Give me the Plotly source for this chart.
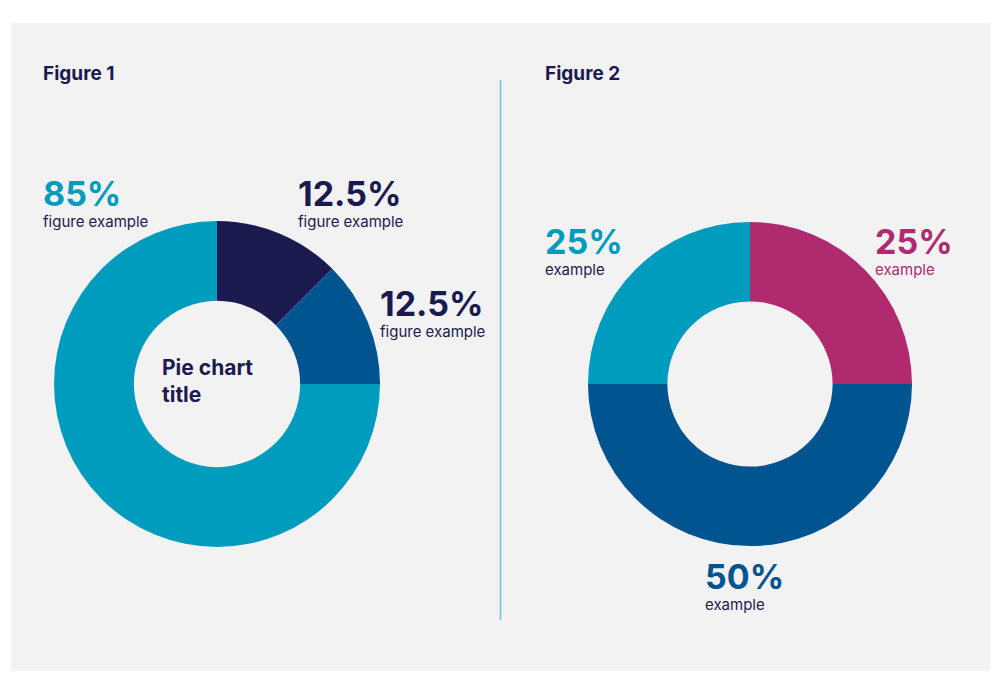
import plotly.graph_objects as go

# ---- data ----
fig1_values = [12.5, 12.5, 75]
fig1_colors = ["#1b1a4f", "#00548f", "#009cbd"]
fig1_pct_labels = ["12.5%", "12.5%", "85%"]
fig1_sub_labels = ["figure example", "figure example", "figure example"]
fig1_title = "Pie chart<br>title"

fig2_values = [25, 50, 25]
fig2_colors = ["#b02a70", "#00548f", "#009cbd"]
fig2_pct_labels = ["25%", "50%", "25%"]
fig2_sub_labels = ["example", "example", "example"]

panel_titles = ["Figure 1", "Figure 2"]

W, H = 1000, 682
NAVY = "#1b1a4f"
FONT = "Inter"


def px_dom(cx, cy, r):
    return dict(x=[(cx - r) / W, (cx + r) / W], y=[(H - cy - r) / H, (H - cy + r) / H])


fig = go.Figure()
fig.add_trace(go.Pie(values=fig1_values, marker=dict(colors=fig1_colors, line=dict(width=0)),
                     hole=0.51, sort=False, direction="clockwise", rotation=0,
                     textinfo="none", hoverinfo="skip", domain=px_dom(217, 384, 163), showlegend=False))
fig.add_trace(go.Pie(values=fig2_values, marker=dict(colors=fig2_colors, line=dict(width=0)),
                     hole=0.51, sort=False, direction="clockwise", rotation=0,
                     textinfo="none", hoverinfo="skip", domain=px_dom(750, 384, 162), showlegend=False))

ann = []


def txt(x, y, text, size, color, bold=False):
    ann.append(dict(x=x / W, y=1 - y / H, xref="paper", yref="paper", xanchor="left", yanchor="top",
                    text=f"<b>{text}</b>" if bold else text, showarrow=False,
                    font=dict(family=FONT, size=size, color=color), align="left"))


# panel titles
txt(41, 60, panel_titles[0], 19, NAVY, True)
txt(543, 60, panel_titles[1], 19, NAVY, True)

# figure 1 labels
lab1_pos = [(296, 171, NAVY), (378, 281, NAVY), (41, 171, "#009cbd")]
for (x, y, c), p, s in zip(lab1_pos, fig1_pct_labels, fig1_sub_labels):
    txt(x, y, p, 34, c, True)
    txt(x, y + 39, s, 15, NAVY)
txt(160, 353, fig1_title, 21, NAVY, True)

# figure 2 labels
lab2_pos = [(873, 219, "#b02a70", "#b02a70"), (703, 554, "#00548f", NAVY), (543, 219, "#009cbd", NAVY)]
for (x, y, c, sc), p, s in zip(lab2_pos, fig2_pct_labels, fig2_sub_labels):
    txt(x, y, p, 34, c, True)
    txt(x, y + 39, s, 15, sc)

fig.update_layout(
    width=W, height=H, margin=dict(l=0, r=0, t=0, b=0),
    paper_bgcolor="white", plot_bgcolor="white",
    shapes=[
        dict(type="rect", xref="paper", yref="paper", x0=11 / W, x1=990 / W, y0=1 - 671 / H, y1=1 - 23 / H,
             fillcolor="#f2f2f2", line=dict(width=0), layer="below"),
        dict(type="line", xref="paper", yref="paper", x0=500.5 / W, x1=500.5 / W, y0=1 - 620 / H, y1=1 - 80 / H,
             line=dict(color="#6cc3d5", width=1.5)),
    ],
    annotations=ann,
)
fig.write_html("out.html", config={"displayModeBar": False},
               post_script="document.body.style.margin='0';document.body.style.overflow='hidden';")
